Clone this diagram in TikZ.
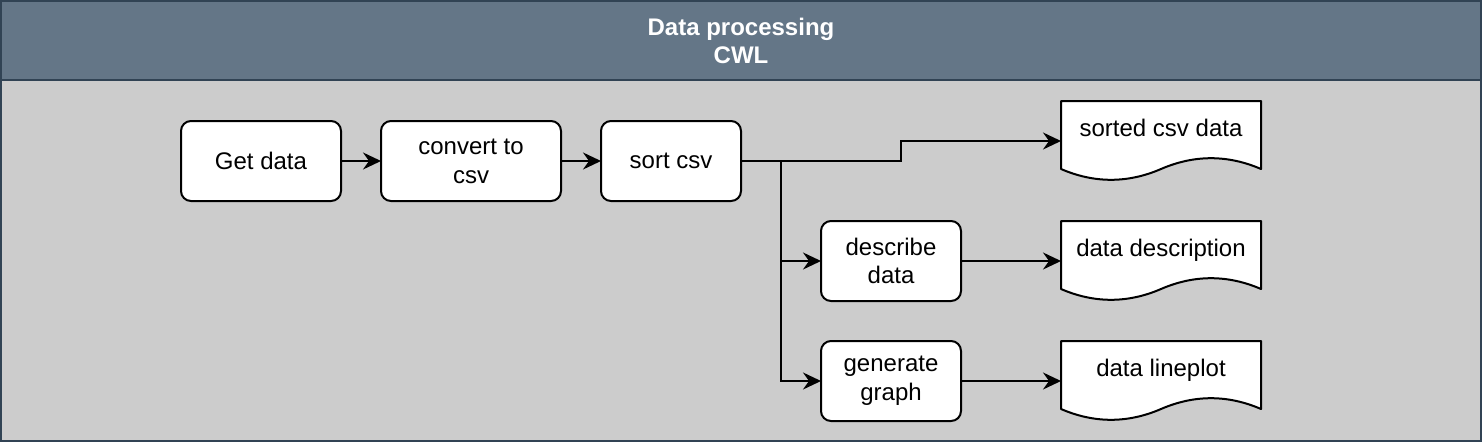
\documentclass[tikz,border=0pt]{standalone}
\usepackage{fontspec}
\setmainfont{Liberation Sans}
\usepackage{tikz}
\usetikzlibrary{arrows.meta,positioning,backgrounds}
\definecolor{headfill}{HTML}{647687}
\definecolor{headline}{HTML}{314354}
\definecolor{bodyfill}{HTML}{CCCCCC}
\tikzstyle{block} = [rectangle, draw, fill=white, line width=2pt, rounded corners=10pt,
    align=center, minimum height=80pt, inner sep=0pt, outer sep=0pt]
\tikzstyle{doc} = [rectangle, minimum width=200pt, minimum height=80pt, inner sep=0pt,
    outer sep=0pt, text height=17pt, text depth=27pt]
\tikzstyle{docline} = [draw, fill=white, line width=2pt, line join=round]
\tikzstyle{arrow} = [draw, -{Stealth[length=18pt, width=17pt, inset=6pt]}, line width=2pt]
\tikzstyle{line} = [draw, line width=2pt]

\begin{document}
\begin{tikzpicture}[x=1pt, y=1pt, font=\fontsize{24}{28.8}\selectfont]
    \useasboundingbox (0,0) rectangle (1482,-442);
    % Place nodes
    \node [block, minimum width=160pt] (getData) at (261,-161) {Get data};
    \node [block, minimum width=180pt, right=40pt of getData] (convertCsv) {convert to\\csv};
    \node [block, minimum width=140pt, right=40pt of convertCsv] (sortCsv) {sort csv};
    \node [block, minimum width=140pt, below right=20pt and 80pt of sortCsv] (describeData) {describe\\data};
    \node [block, minimum width=140pt, below=40pt of describeData] (generateGraph) {generate\\graph};
    \node [doc, right=100pt of describeData] (dataDescription) {data description};
    \node [doc, right=100pt of generateGraph] (dataLineplot) {data lineplot};
    \node [doc, above=40pt of dataDescription] (sortedData) {sorted csv data};
    \node [text=white, font=\fontsize{24}{28.8}\selectfont\bfseries, align=center] (title) at (741,-41) {Data processing\\CWL};

    % Frame and document shapes
    \begin{scope}[on background layer]
    \filldraw [draw=headline, fill=bodyfill, line width=2pt] (1,-1) rectangle (1481,-441);
    \filldraw [draw=headline, fill=headfill, line width=2pt] (1,-1) rectangle (1481,-80);
    \foreach \d in {sortedData, dataDescription, dataLineplot} {
        \path [docline] (\d.north west) -- (\d.north east) -- ([yshift=-68pt]\d.north east)
            .. controls ([shift={(-33.3pt,-53.6pt)}]\d.north east) and ([shift={(133.3pt,-53.6pt)}]\d.north west)
            .. ([shift={(100pt,-68pt)}]\d.north west)
            .. controls ([shift={(66.7pt,-82.4pt)}]\d.north west) and ([shift={(33.3pt,-82.4pt)}]\d.north west)
            .. ([yshift=-68pt]\d.north west) -- cycle;
    }
    \end{scope}

    \coordinate (fork) at ([xshift=40pt]sortCsv.east);
    \path [arrow] (getData) -- (convertCsv);
    \path [arrow] (convertCsv) -- (sortCsv);
    \path [arrow] (sortCsv.east) -- ([xshift=160pt]sortCsv.east) |- (sortedData.west);
    \path [line] (sortCsv.east) -- (fork);
    \path [arrow] (fork) |- (describeData.west);
    \path [arrow] (fork) |- (generateGraph.west);
    \path [arrow] (describeData) -- (dataDescription);
    \path [arrow] (generateGraph) -- (dataLineplot);
\end{tikzpicture}
\end{document}
